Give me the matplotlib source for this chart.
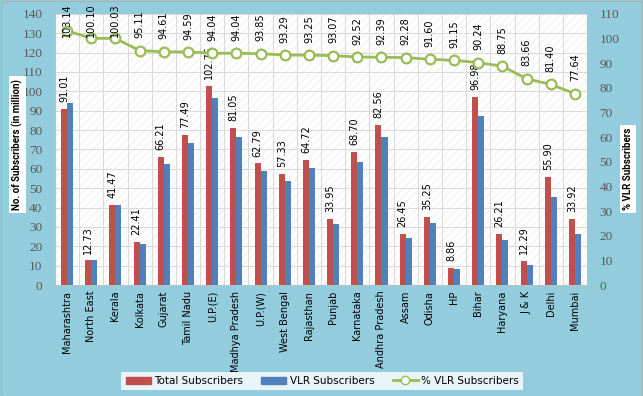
import numpy as np
import matplotlib.pyplot as plt
from matplotlib import font_manager
from matplotlib.lines import Line2D
from matplotlib.patches import Patch, Rectangle

# ---- data ----
circles = ["Maharashtra", "North East", "Kerala", "Kolkata", "Gujarat", "Tamil Nadu",
           "U.P.(E)", "Madhya Pradesh", "U.P.(W)", "West Bengal", "Rajasthan", "Punjab",
           "Karnataka", "Andhra Pradesh", "Assam", "Odisha", "HP", "Bihar", "Haryana",
           "J & K", "Delhi", "Mumbai"]
total_subs = [91.01, 12.73, 41.47, 22.41, 66.21, 77.49, 102.75, 81.05, 62.79, 57.33, 64.72,
              33.95, 68.70, 82.56, 26.45, 35.25, 8.86, 96.98, 26.21, 12.29, 55.90, 33.92]
vlr_subs = [93.87, 12.74, 41.48, 21.31, 62.64, 73.30, 96.63, 76.22, 58.93, 53.48, 60.35,
            31.60, 63.56, 76.28, 24.41, 32.29, 8.08, 87.52, 23.26, 10.28, 45.50, 26.34]
vlr_pct = [103.14, 100.10, 100.03, 95.11, 94.61, 94.59, 94.04, 94.04, 93.85, 93.29, 93.25,
           93.07, 92.52, 92.39, 92.28, 91.60, 91.15, 90.24, 88.75, 83.66, 81.40, 77.64]

RED = "#C0504D"
BLUE = "#4F81BD"
GREEN = "#9BBB59"
BG = "#93CDDD"
TICK = "#595959"

# narrowish font for the axis titles
try:
    font_manager.findfont("Roboto", fallback_to_default=False)
    TITLE_FONT, TITLE_SIZE = "Roboto", 7
except ValueError:
    TITLE_FONT, TITLE_SIZE = "DejaVu Sans", 6.3

fig = plt.figure(figsize=(6.43, 3.96), dpi=100)
fig.patch.set_facecolor(BG)
fig.patches.append(Rectangle((0.001, 0.001), 0.997, 0.996, transform=fig.transFigure,
                             fill=False, edgecolor="#B0B0B0", lw=0.8))

ax = fig.add_axes([0.0855, 0.280, 0.8275, 0.685])
ax.set_facecolor("white")
ax2 = ax.twinx()

x = np.arange(len(circles))
w = 0.25

# light texture of the plot area
ax.add_patch(Rectangle((-0.5, 0), len(circles), 140, facecolor="white",
                       edgecolor="#F3F3F3", hatch="////", lw=0, zorder=0))

ax.bar(x - w / 2, total_subs, w, color=RED, zorder=3)
ax.bar(x + w / 2, vlr_subs, w, color=BLUE, zorder=3)
for xi, v in zip(x, total_subs):
    ax.annotate(f"{v:.2f}", (xi - w / 2, v), xytext=(0, 5), textcoords="offset points",
                rotation=90, ha="center", va="bottom", fontsize=7, zorder=5)

ax.set_xlim(-0.5, len(circles) - 0.5)
ax.set_ylim(0, 140)
ax.set_yticks(range(0, 141, 10))
ax.set_xticks(x)
ax.set_xticklabels(circles, rotation=90, fontsize=7, family="DejaVu Sans")
ax.tick_params(axis="x", length=0, pad=4)
ax.tick_params(axis="y", length=0, colors=TICK, labelsize=9.5, pad=9)
for lbl in ax.get_yticklabels():
    lbl.set_family("Liberation Serif")

# grid: horizontal at every 10, vertical between categories
ax.set_axisbelow(True)
ax.yaxis.grid(True, color="#D9D9D9", lw=0.7)
for b in np.arange(0.5, len(circles) - 0.5, 1):
    ax.axvline(b, color="#D9D9D9", lw=0.7, zorder=1)

for s in ["top", "right"]:
    ax.spines[s].set_visible(False)
    ax2.spines[s].set_visible(False)
ax.spines["left"].set_color("#BFBFBF")
ax.spines["bottom"].set_color("#BFBFBF")
ax2.spines["left"].set_visible(False)
ax2.spines["bottom"].set_visible(False)

ax2.plot(x, vlr_pct, color=GREEN, lw=2, marker="o", ms=7, mfc="white", mec=GREEN,
         mew=1.6, zorder=6)
# labels above the points, held inside the chart at the top like the original
for xi, v in zip(x, vlr_pct):
    ax2.text(xi, min(v + 5, 100.5), f"{v:.2f}", rotation=90, ha="center", va="bottom",
             fontsize=7, zorder=7, clip_on=False)
ax2.set_ylim(0, 110)
ax2.set_yticks(range(0, 111, 10))
ax2.tick_params(axis="y", length=0, colors=TICK, labelsize=9.5, pad=9)
for lbl in ax2.get_yticklabels():
    lbl.set_family("Liberation Serif")

# axis titles in white boxes
fig.text(0.027, 0.635, "No. of Subscribers (in million)", rotation=90, ha="center",
         va="center", fontsize=TITLE_SIZE, fontweight="bold", family=TITLE_FONT,
         bbox=dict(facecolor="white", edgecolor="none", pad=2))
fig.text(0.977, 0.573, "% VLR Subscribers", rotation=90, ha="center", va="center",
         fontsize=TITLE_SIZE, fontweight="bold", family=TITLE_FONT,
         bbox=dict(facecolor="white", edgecolor="none", pad=2))

handles = [Patch(color=RED, label="Total Subscribers"),
           Patch(color=BLUE, label="VLR Subscribers"),
           Line2D([0], [0], color=GREEN, lw=2, marker="o", ms=6, mfc="white", mec=GREEN,
                  label="% VLR Subscribers")]
leg = fig.legend(handles=handles, loc="center", bbox_to_anchor=(0.501, 0.038), ncol=3,
                 fontsize=7.5, frameon=True, fancybox=False, facecolor="white",
                 edgecolor="white", handlelength=2.4, handleheight=0.7, handletextpad=0.3,
                 columnspacing=1.8, borderpad=0.4, borderaxespad=0)
leg.get_frame().set_linewidth(0)

fig.savefig("out.png", dpi=100, facecolor=BG)
